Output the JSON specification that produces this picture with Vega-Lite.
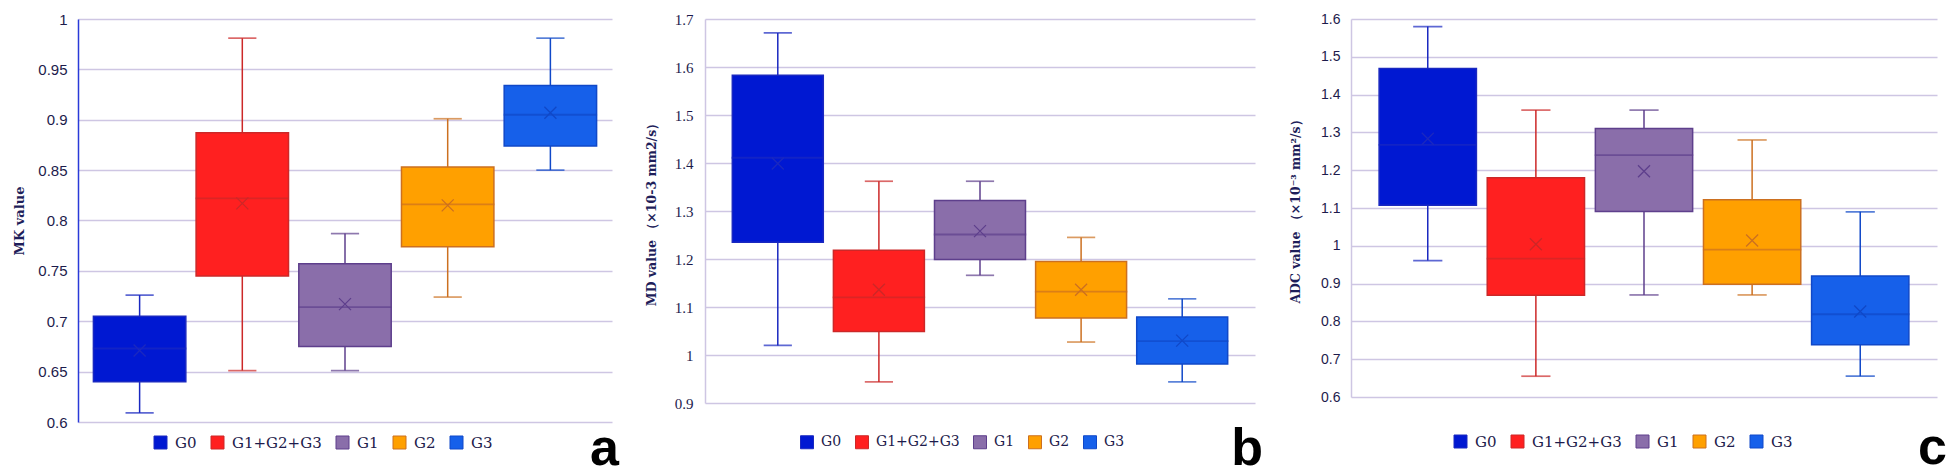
{
  "$schema": "https://vega.github.io/schema/vega-lite/v6.json",
  "background": "white",
  "padding": {"left": 13, "top": 12, "right": 0, "bottom": 0},
  "spacing": 26,
  "datasets": {
    "mk": [
      {"group": "G0", "min": 0.609, "q1": 0.640, "median": 0.673, "mean": 0.671, "q3": 0.705, "max": 0.726},
      {"group": "G1+G2+G3", "min": 0.651, "q1": 0.745, "median": 0.822, "mean": 0.817, "q3": 0.887, "max": 0.981},
      {"group": "G1", "min": 0.651, "q1": 0.675, "median": 0.714, "mean": 0.717, "q3": 0.757, "max": 0.787},
      {"group": "G2", "min": 0.724, "q1": 0.774, "median": 0.816, "mean": 0.815, "q3": 0.853, "max": 0.901},
      {"group": "G3", "min": 0.850, "q1": 0.874, "median": 0.905, "mean": 0.907, "q3": 0.934, "max": 0.981}
    ],
    "md": [
      {"group": "G0", "min": 1.020, "q1": 1.235, "median": 1.411, "mean": 1.399, "q3": 1.583, "max": 1.671},
      {"group": "G1+G2+G3", "min": 0.944, "q1": 1.049, "median": 1.120, "mean": 1.136, "q3": 1.218, "max": 1.362},
      {"group": "G1", "min": 1.166, "q1": 1.199, "median": 1.251, "mean": 1.258, "q3": 1.322, "max": 1.362},
      {"group": "G2", "min": 1.027, "q1": 1.077, "median": 1.132, "mean": 1.136, "q3": 1.195, "max": 1.245},
      {"group": "G3", "min": 0.944, "q1": 0.981, "median": 1.029, "mean": 1.030, "q3": 1.079, "max": 1.117}
    ],
    "adc": [
      {"group": "G0", "min": 0.961, "q1": 1.107, "median": 1.267, "mean": 1.283, "q3": 1.469, "max": 1.580},
      {"group": "G1+G2+G3", "min": 0.655, "q1": 0.869, "median": 0.966, "mean": 1.004, "q3": 1.180, "max": 1.359},
      {"group": "G1", "min": 0.870, "q1": 1.091, "median": 1.240, "mean": 1.197, "q3": 1.310, "max": 1.359},
      {"group": "G2", "min": 0.870, "q1": 0.898, "median": 0.990, "mean": 1.014, "q3": 1.122, "max": 1.280},
      {"group": "G3", "min": 0.655, "q1": 0.738, "median": 0.819, "mean": 0.826, "q3": 0.920, "max": 1.090}
    ]
  },
  "hconcat": [
    {
      "width": 534,
      "height": 403,
      "data": {"name": "mk"},
      "title": {"text": "a", "orient": "bottom", "anchor": "end", "frame": "group", "font": "Liberation Sans", "fontWeight": "bold", "fontSize": 52, "color": "#000000", "offset": 0, "dy": -27, "dx": 7},
      "encoding": {
        "x": {"field": "group", "type": "nominal", "sort": ["G0", "G1+G2+G3", "G1", "G2", "G3"], "scale": {"paddingInner": 0, "paddingOuter": 0.1}, "axis": null},
        "stroke": {"field": "group", "type": "nominal", "scale": {"domain": ["G0", "G1+G2+G3", "G1", "G2", "G3"], "range": ["#1a28c0", "#cc2828", "#5e3f8c", "#cc7020", "#1048c8"]},
          "legend": {"title": null, "orient": "none", "direction": "horizontal", "legendX": 75, "legendY": 416, "padding": 0, "symbolType": "square", "symbolSize": 169, "symbolStrokeWidth": 1, "symbolOpacity": 1, "labelFont": "DejaVu Serif", "labelFontSize": 15, "labelColor": "#1d1b4c", "labelOffset": 7, "columnPadding": 12}}
      },
      "layer": [
        {
          "mark": {"type": "rule", "strokeWidth": 1.5},
          "encoding": {
            "y": {"field": "min", "type": "quantitative", "scale": {"domain": [0.6, 1], "nice": false, "zero": false},
              "axis": {"values": [0.6, 0.65, 0.7, 0.75, 0.8, 0.85, 0.9, 0.95, 1], "tickCount": 9, "format": "~g", "labelOverlap": false, "grid": true, "gridColor": "#cec6e3", "gridWidth": 1.5, "domain": true, "domainColor": "#2a3ad8", "domainWidth": 1.5, "ticks": false, "labelFont": "Liberation Sans", "labelFontSize": 15, "labelColor": "#1d1b4c", "labelPadding": 11, "title": "MK value", "titleFont": "DejaVu Serif", "titleFontWeight": "bold", "titleFontSize": 13, "titleColor": "#1e1e5a", "titlePadding": 11}},
            "y2": {"field": "max"}
          }
        },
        {
          "mark": {"type": "tick", "size": 27, "thickness": 0.5, "filled": false, "strokeWidth": 1.2},
          "encoding": {"y": {"field": "min", "type": "quantitative"}}
        },
        {
          "mark": {"type": "tick", "size": 27, "thickness": 0.5, "filled": false, "strokeWidth": 1.2},
          "encoding": {"y": {"field": "max", "type": "quantitative"}}
        },
        {
          "mark": {"type": "bar", "width": {"band": 0.9}, "strokeWidth": 1.5, "opacity": 1},
          "encoding": {
            "y": {"field": "q1", "type": "quantitative"},
            "y2": {"field": "q3"},
            "color": {"field": "group", "type": "nominal", "scale": {"domain": ["G0", "G1+G2+G3", "G1", "G2", "G3"], "range": ["#0018d2", "#ff2020", "#8a6eaa", "#ffa000", "#1660ea"]},
              "legend": {"title": null, "orient": "none", "direction": "horizontal", "legendX": 75, "legendY": 416, "padding": 0, "symbolType": "square", "symbolSize": 169, "symbolStrokeWidth": 1, "symbolOpacity": 1, "labelFont": "DejaVu Serif", "labelFontSize": 15, "labelColor": "#1d1b4c", "labelOffset": 7, "columnPadding": 12}}
          }
        },
        {
          "mark": {"type": "tick", "size": 92, "thickness": 0.5, "filled": false, "strokeWidth": 1.4},
          "encoding": {"y": {"field": "median", "type": "quantitative"}}
        },
        {
          "mark": {"type": "point", "shape": "M-1,-1L1,1M-1,1L1,-1", "size": 144, "filled": false, "strokeWidth": 1.3, "opacity": 1},
          "encoding": {"y": {"field": "mean", "type": "quantitative"}}
        }
      ]
    },
    {
      "width": 550,
      "height": 384,
      "data": {"name": "md"},
      "title": {"text": "b", "orient": "bottom", "anchor": "end", "frame": "group", "font": "Liberation Sans", "fontWeight": "bold", "fontSize": 52, "color": "#000000", "offset": 0, "dy": -27, "dx": 8},
      "encoding": {
        "x": {"field": "group", "type": "nominal", "sort": ["G0", "G1+G2+G3", "G1", "G2", "G3"], "scale": {"paddingInner": 0, "paddingOuter": 0.22}, "axis": null},
        "stroke": {"field": "group", "type": "nominal", "scale": {"domain": ["G0", "G1+G2+G3", "G1", "G2", "G3"], "range": ["#1a28c0", "#cc2828", "#5e3f8c", "#cc7020", "#1048c8"]},
          "legend": {"title": null, "orient": "none", "direction": "horizontal", "legendX": 95, "legendY": 416, "padding": 0, "symbolType": "square", "symbolSize": 169, "symbolStrokeWidth": 1, "symbolOpacity": 1, "labelFont": "DejaVu Serif", "labelFontSize": 14, "labelColor": "#1d1b4c", "labelOffset": 7, "columnPadding": 11}}
      },
      "layer": [
        {
          "mark": {"type": "rule", "strokeWidth": 1.5},
          "encoding": {
            "y": {"field": "min", "type": "quantitative", "scale": {"domain": [0.9, 1.7], "nice": false, "zero": false},
              "axis": {"values": [0.9, 1, 1.1, 1.2, 1.3, 1.4, 1.5, 1.6, 1.7], "tickCount": 9, "format": "~g", "labelOverlap": false, "grid": true, "gridColor": "#cec6e3", "gridWidth": 1.5, "domain": true, "domainColor": "#cec6e3", "domainWidth": 1.5, "ticks": false, "labelFont": "Liberation Serif", "labelFontSize": 15, "labelColor": "#1d1b4c", "labelPadding": 12, "title": "MD value （×10-3 mm2/s）", "titleFont": "DejaVu Serif", "titleFontWeight": "bold", "titleFontSize": 12.5, "titleColor": "#1e1e5a", "titlePadding": 16}},
            "y2": {"field": "max"}
          }
        },
        {
          "mark": {"type": "tick", "size": 27, "thickness": 0.5, "filled": false, "strokeWidth": 1.2},
          "encoding": {"y": {"field": "min", "type": "quantitative"}}
        },
        {
          "mark": {"type": "tick", "size": 27, "thickness": 0.5, "filled": false, "strokeWidth": 1.2},
          "encoding": {"y": {"field": "max", "type": "quantitative"}}
        },
        {
          "mark": {"type": "bar", "width": {"band": 0.9}, "strokeWidth": 1.5, "opacity": 1},
          "encoding": {
            "y": {"field": "q1", "type": "quantitative"},
            "y2": {"field": "q3"},
            "color": {"field": "group", "type": "nominal", "scale": {"domain": ["G0", "G1+G2+G3", "G1", "G2", "G3"], "range": ["#0018d2", "#ff2020", "#8a6eaa", "#ffa000", "#1660ea"]},
              "legend": {"title": null, "orient": "none", "direction": "horizontal", "legendX": 95, "legendY": 416, "padding": 0, "symbolType": "square", "symbolSize": 169, "symbolStrokeWidth": 1, "symbolOpacity": 1, "labelFont": "DejaVu Serif", "labelFontSize": 14, "labelColor": "#1d1b4c", "labelOffset": 7, "columnPadding": 11}}
          }
        },
        {
          "mark": {"type": "tick", "size": 91, "thickness": 0.5, "filled": false, "strokeWidth": 1.4},
          "encoding": {"y": {"field": "median", "type": "quantitative"}}
        },
        {
          "mark": {"type": "point", "shape": "M-1,-1L1,1M-1,1L1,-1", "size": 144, "filled": false, "strokeWidth": 1.3, "opacity": 1},
          "encoding": {"y": {"field": "mean", "type": "quantitative"}}
        }
      ]
    },
    {
      "width": 586,
      "height": 378,
      "data": {"name": "adc"},
      "title": {"text": "c", "orient": "bottom", "anchor": "end", "frame": "group", "font": "Liberation Sans", "fontWeight": "bold", "fontSize": 52, "color": "#000000", "offset": 0, "dy": -27, "dx": 10},
      "encoding": {
        "x": {"field": "group", "type": "nominal", "sort": ["G0", "G1+G2+G3", "G1", "G2", "G3"], "scale": {"paddingInner": 0, "paddingOuter": 0.21}, "axis": null},
        "stroke": {"field": "group", "type": "nominal", "scale": {"domain": ["G0", "G1+G2+G3", "G1", "G2", "G3"], "range": ["#1a28c0", "#cc2828", "#5e3f8c", "#cc7020", "#1048c8"]},
          "legend": {"title": null, "orient": "none", "direction": "horizontal", "legendX": 102, "legendY": 415, "padding": 0, "symbolType": "square", "symbolSize": 169, "symbolStrokeWidth": 1, "symbolOpacity": 1, "labelFont": "DejaVu Serif", "labelFontSize": 15, "labelColor": "#1d1b4c", "labelOffset": 7, "columnPadding": 12}}
      },
      "layer": [
        {
          "mark": {"type": "rule", "strokeWidth": 1.5},
          "encoding": {
            "y": {"field": "min", "type": "quantitative", "scale": {"domain": [0.6, 1.6], "nice": false, "zero": false},
              "axis": {"values": [0.6, 0.7, 0.8, 0.9, 1, 1.1, 1.2, 1.3, 1.4, 1.5, 1.6], "tickCount": 11, "format": "~g", "labelOverlap": false, "labelSeparation": 0, "grid": true, "gridColor": "#cec6e3", "gridWidth": 1.5, "domain": true, "domainColor": "#cec6e3", "domainWidth": 1.5, "ticks": false, "labelFont": "Liberation Sans", "labelFontSize": 14, "labelColor": "#1d1b4c", "labelPadding": 11, "title": "ADC value （×10⁻³ mm²/s）", "titleFont": "DejaVu Serif", "titleFontWeight": "bold", "titleFontSize": 12.5, "titleColor": "#1e1e5a", "titlePadding": 18}},
            "y2": {"field": "max"}
          }
        },
        {
          "mark": {"type": "tick", "size": 28, "thickness": 0.5, "filled": false, "strokeWidth": 1.2},
          "encoding": {"y": {"field": "min", "type": "quantitative"}}
        },
        {
          "mark": {"type": "tick", "size": 28, "thickness": 0.5, "filled": false, "strokeWidth": 1.2},
          "encoding": {"y": {"field": "max", "type": "quantitative"}}
        },
        {
          "mark": {"type": "bar", "width": {"band": 0.9}, "strokeWidth": 1.5, "opacity": 1},
          "encoding": {
            "y": {"field": "q1", "type": "quantitative"},
            "y2": {"field": "q3"},
            "color": {"field": "group", "type": "nominal", "scale": {"domain": ["G0", "G1+G2+G3", "G1", "G2", "G3"], "range": ["#0018d2", "#ff2020", "#8a6eaa", "#ffa000", "#1660ea"]},
              "legend": {"title": null, "orient": "none", "direction": "horizontal", "legendX": 102, "legendY": 415, "padding": 0, "symbolType": "square", "symbolSize": 169, "symbolStrokeWidth": 1, "symbolOpacity": 1, "labelFont": "DejaVu Serif", "labelFontSize": 15, "labelColor": "#1d1b4c", "labelOffset": 7, "columnPadding": 12}}
          }
        },
        {
          "mark": {"type": "tick", "size": 97, "thickness": 0.5, "filled": false, "strokeWidth": 1.4},
          "encoding": {"y": {"field": "median", "type": "quantitative"}}
        },
        {
          "mark": {"type": "point", "shape": "M-1,-1L1,1M-1,1L1,-1", "size": 144, "filled": false, "strokeWidth": 1.3, "opacity": 1},
          "encoding": {"y": {"field": "mean", "type": "quantitative"}}
        }
      ]
    }
  ],
  "resolve": {"scale": {"color": "independent", "stroke": "independent"}, "legend": {"color": "independent", "stroke": "independent"}},
  "config": {
    "view": {"stroke": null},
    "axis": {"labelOverlap": false},
    "legend": {"labelFont": "DejaVu Serif", "labelColor": "#1d1b4c", "symbolOpacity": 1, "labelOffset": 7}
  }
}
